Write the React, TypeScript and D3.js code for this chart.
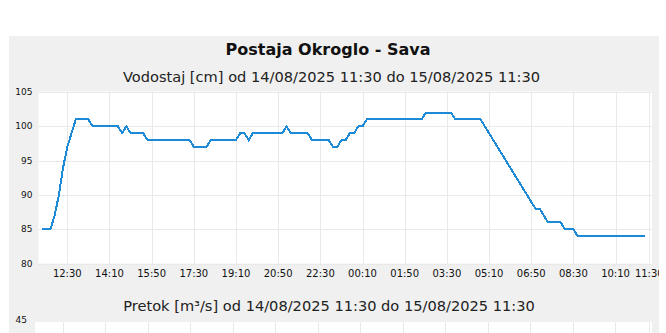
import React from "react";
import * as d3 from "d3";

const startTime = "2025-08-14T11:30:00";
const endTime = "2025-08-15T11:30:00";
const stepMinutes = 10;

// Vodostaj [cm], 10-minute readings from 14/08 11:30
const levels: number[] = [
  85, 85, 85, 87, 90, 94, 97, 99, 101, 101, 101, 101,
  100, 100, 100, 100, 100, 100, 100, 99, 100, 99, 99, 99, 99,
  98, 98, 98, 98, 98, 98, 98, 98, 98, 98, 98,
  97, 97, 97, 97,
  98, 98, 98, 98, 98, 98, 98,
  99, 99, 98,
  99, 99, 99, 99, 99, 99, 99, 99,
  100,
  99, 99, 99, 99, 99,
  98, 98, 98, 98, 98,
  97, 97, 98, 98, 99, 99, 100, 100,
  101, 101, 101, 101, 101, 101, 101, 101, 101, 101, 101, 101, 101, 101,
  102, 102, 102, 102, 102, 102, 102,
  101, 101, 101, 101, 101, 101, 101,
  100, 99, 98, 97, 96, 95, 94, 93, 92, 91, 90, 89,
  88, 88, 87,
  86, 86, 86, 86,
  85, 85, 85,
  84, 84, 84, 84, 84, 84, 84, 84, 84, 84, 84, 84, 84, 84, 84, 84, 84,
];

const tickLabels = [
  "12:30", "14:10", "15:50", "17:30", "19:10", "20:50", "22:30",
  "00:10", "01:50", "03:30", "05:10", "06:50", "08:30", "10:10", "11:30",
];
const levelTicks = [80, 85, 90, 95, 100, 105];
const flowTicks = [45];

const title = "Postaja Okroglo - Sava";
const levelTitle = "Vodostaj [cm] od 14/08/2025 11:30 do 15/08/2025 11:30";
const flowTitle = "Pretok [m³/s] od 14/08/2025 11:30 do 15/08/2025 11:30";

const FONT = "'DejaVu Sans', Verdana, sans-serif";
const GRID = "#e9e9e9";
const LINE = "#1c8ad6";

export default function App() {
  const t0 = new Date(startTime);
  const t1 = new Date(endTime);

  const tickTimes = tickLabels.map((lab) => {
    const [h, m] = lab.split(":").map(Number);
    const d = new Date(t0);
    d.setHours(h, m, 0, 0);
    if (d <= t0) d.setDate(d.getDate() + 1);
    return d;
  });

  const x = d3.scaleTime().domain([t0, t1]).range([42, 649.3]);
  const y = d3.scaleLinear().domain([80, 105]).range([263.6, 92]);
  const x2 = d3.scaleTime().domain([t0, t1]).range([37.2, 649]);
  const y2 = d3.scaleLinear().domain([0, 45]).range([600, 322]);

  const pts = levels.map((v, i) => ({ t: d3.timeMinute.offset(t0, i * stepMinutes), v }));
  const line = d3
    .line<{ t: Date; v: number }>()
    .x((d) => x(d.t))
    .y((d) => y(d.v));

  return (
    <svg
      width={666}
      height={333}
      style={{ position: "absolute", left: 0, top: 0, display: "block" }}
      fontFamily={FONT}
    >
      <defs>
        <clipPath id="panel">
          <rect x={9} y={36} width={650} height={297} />
        </clipPath>
      </defs>
      <rect x={0} y={0} width={666} height={333} fill="#ffffff" />
      <g clipPath="url(#panel)">
        <rect x={9} y={36} width={650} height={297} fill="#f0f0f0" />
        <text x={328} y={55} textAnchor="middle" fontSize={16} fontWeight="bold" fill="#111">
          {title}
        </text>
        <text x={331.5} y={81.5} textAnchor="middle" fontSize={14.6} fill="#222">
          {levelTitle}
        </text>

        {/* level plot */}
        <rect x={38.5} y={91.5} width={613.5} height={172} fill="#ffffff" />
        {levelTicks.map((v) => (
          <line key={"hg" + v} x1={38.5} x2={652} y1={Math.round(y(v)) + 0.5} y2={Math.round(y(v)) + 0.5} stroke={GRID} />
        ))}
        {tickTimes.map((d, i) => (
          <line key={"vg" + i} x1={Math.round(x(d)) + 0.5} x2={Math.round(x(d)) + 0.5} y1={91.5} y2={263.5} stroke={GRID} />
        ))}
        <path d={line(pts) || ""} fill="none" stroke={LINE} strokeWidth={2} shapeRendering="crispEdges" />
        {levelTicks.map((v) => (
          <text key={"yl" + v} x={32.5} y={y(v) + 3} textAnchor="end" fontSize={9} fill="#111">
            {v}
          </text>
        ))}
        {tickTimes.map((d, i) => (
          <text key={"xl" + i} x={x(d)} y={276.7} textAnchor="middle" fontSize={10} fill="#111">
            {tickLabels[i]}
          </text>
        ))}

        {/* flow plot (top part) */}
        <text x={329} y={311} textAnchor="middle" fontSize={14.6} fill="#222">
          {flowTitle}
        </text>
        <rect x={35} y={322} width={617} height={20} fill="#ffffff" />
        {tickTimes.map((d, i) => (
          <line key={"vg2" + i} x1={Math.round(x2(d)) + 0.5} x2={Math.round(x2(d)) + 0.5} y1={322} y2={340} stroke={GRID} />
        ))}
        {flowTicks.map((v) => (
          <text key={"fl" + v} x={27} y={y2(v) + 1} textAnchor="end" fontSize={9} fill="#111">
            {v}
          </text>
        ))}
      </g>
    </svg>
  );
}
